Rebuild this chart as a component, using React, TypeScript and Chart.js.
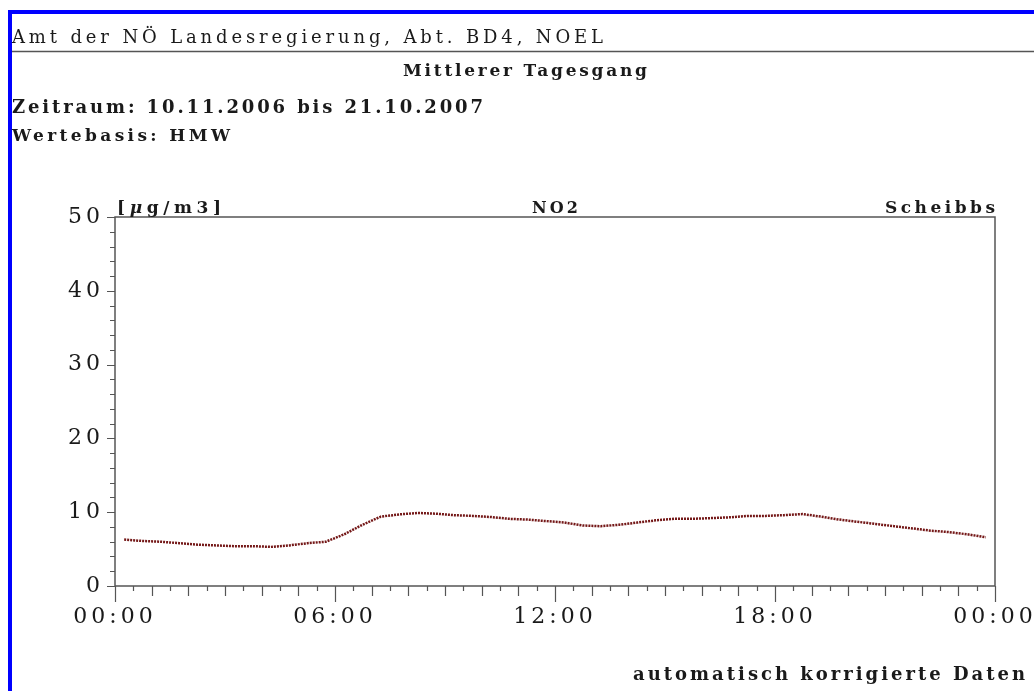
import React, { useEffect, useRef } from 'react';
import { Chart, registerables } from 'chart.js';

Chart.register(...registerables);

// Half-hour mean times (hours of day, midpoint of each half-hour interval)
const HOURS = [
  0.25, 0.75, 1.25, 1.75, 2.25, 2.75, 3.25, 3.75, 4.25, 4.75, 5.25, 5.75,
  6.25, 6.75, 7.25, 7.75, 8.25, 8.75, 9.25, 9.75, 10.25, 10.75, 11.25, 11.75,
  12.25, 12.75, 13.25, 13.75, 14.25, 14.75, 15.25, 15.75, 16.25, 16.75, 17.25, 17.75,
  18.25, 18.75, 19.25, 19.75, 20.25, 20.75, 21.25, 21.75, 22.25, 22.75, 23.25, 23.75,
];

// NO2 mean diurnal cycle [µg/m3]
const NO2 = [
  6.3, 6.1, 6.0, 5.8, 5.6, 5.5, 5.4, 5.4, 5.3, 5.5, 5.8, 6.0,
  7.0, 8.3, 9.4, 9.7, 9.9, 9.8, 9.6, 9.5, 9.35, 9.1, 9.0, 8.8,
  8.6, 8.2, 8.1, 8.3, 8.6, 8.9, 9.1, 9.1, 9.2, 9.3, 9.5, 9.5,
  9.6, 9.75, 9.4, 9.0, 8.7, 8.4, 8.1, 7.8, 7.5, 7.3, 7.0, 6.6,
];

const X_MAJOR_HOURS = [0, 6, 12, 18, 24];
const X_MAJOR_LABELS = ['00:00', '06:00', '12:00', '18:00', '00:00'];
const Y_LABELED = [0, 10, 20, 30, 40, 50];

const FONT = "'DejaVu Serif', serif";

const framePlugin = {
  id: 'frameTicks',
  beforeUpdate(chart: any) {
    chart.ctx.letterSpacing = '4px';
  },
  beforeDraw(chart: any) {
    chart.ctx.letterSpacing = '4px';
  },
  afterDraw(chart: any) {
    const { ctx, chartArea: a } = chart;
    const xs = chart.scales.x;
    const ys = chart.scales.y;
    ctx.save();
    ctx.strokeStyle = '#555555';
    ctx.lineWidth = 1.5;
    ctx.strokeRect(a.left, a.top, a.right - a.left, a.bottom - a.top);
    ctx.lineWidth = 1.2;
    ctx.beginPath();
    ys.ticks.forEach((t: any) => {
      const py = Math.round(ys.getPixelForValue(t.value)) + 0.5;
      const len = Y_LABELED.includes(t.value) ? 8 : 5;
      ctx.moveTo(a.left - len, py);
      ctx.lineTo(a.left, py);
    });
    xs.ticks.forEach((t: any) => {
      const px = Math.round(xs.getPixelForValue(t.value)) + 0.5;
      let len = 5;
      if (X_MAJOR_HOURS.includes(t.value)) len = 16;
      else if (Number.isInteger(t.value)) len = 10;
      ctx.moveTo(px, a.bottom);
      ctx.lineTo(px, a.bottom + len);
    });
    ctx.stroke();
    ctx.restore();
  },
};

export default function App() {
  const ref = useRef<HTMLCanvasElement | null>(null);

  useEffect(() => {
    document.body.style.margin = '0';
    const canvas = ref.current;
    if (!canvas) return;
    const chart = new Chart(canvas, {
      type: 'line',
      data: {
        datasets: [
          {
            label: 'NO2',
            data: HOURS.map((h, i) => ({ x: h, y: NO2[i] })),
            borderColor: '#741818',
            borderWidth: 2.5,
            borderDash: [2, 1],
            pointRadius: 0,
            tension: 0,
            fill: false,
          },
        ],
      },
      options: {
        animation: false,
        responsive: false,
        maintainAspectRatio: false,
        devicePixelRatio: 1,
        layout: { padding: { top: 217, right: 39, left: 0, bottom: 0 } },
        plugins: {
          legend: { display: false },
          title: { display: false },
          tooltip: { enabled: false },
        },
        scales: {
          x: {
            type: 'linear',
            min: 0,
            max: 24,
            grid: { display: false, drawTicks: false },
            border: { display: false },
            ticks: {
              stepSize: 0.5,
              autoSkip: false,
              maxRotation: 0,
              minRotation: 0,
              padding: 18,
              color: '#1a1a1a',
              font: { family: FONT, size: 22 },
              callback: (v: any) => {
                const i = X_MAJOR_HOURS.indexOf(Number(v));
                return i >= 0 ? X_MAJOR_LABELS[i] : '';
              },
            },
            afterFit: (s: any) => {
              s.height = 105;
              s.paddingLeft = 0;
              s.paddingRight = 0;
            },
          },
          y: {
            type: 'linear',
            min: 0,
            max: 50,
            grid: { display: false, drawTicks: false },
            border: { display: false },
            ticks: {
              stepSize: 2,
              autoSkip: false,
              padding: 11,
              color: '#1a1a1a',
              font: { family: FONT, size: 22 },
              callback: (v: any) => (Y_LABELED.includes(Number(v)) ? String(v) : ''),
            },
            afterFit: (s: any) => {
              s.width = 115;
              s.paddingTop = 0;
              s.paddingBottom = 0;
            },
          },
        },
      },
      plugins: [framePlugin],
    });
    return () => chart.destroy();
  }, []);

  const t = { fontFamily: FONT, fill: '#1a1a1a' } as React.CSSProperties;

  return (
    <div style={{ position: 'relative', width: 1034, height: 691, overflow: 'hidden', background: '#ffffff' }}>
      <canvas ref={ref} width={1034} height={691} style={{ position: 'absolute', left: 0, top: 0, width: 1034, height: 691, display: 'block' }} />
      <svg width={1034} height={691} style={{ position: 'absolute', left: 0, top: 0, pointerEvents: 'none' }}>
        <rect x={8} y={10} width={4} height={681} fill="#0000ff" />
        <rect x={8} y={10} width={1026} height={4} fill="#0000ff" />
        <line x1={12} y1={51.5} x2={1034} y2={51.5} stroke="#555555" strokeWidth={1.5} />
        <text x={12} y={43} fontSize={18} textLength={591} lengthAdjust="spacing" style={t}>
          Amt der NÖ Landesregierung, Abt. BD4, NOEL
        </text>
        <text x={403} y={76} fontSize={17} fontWeight="bold" textLength={244} lengthAdjust="spacing" style={t}>
          Mittlerer Tagesgang
        </text>
        <text x={12} y={113} fontSize={18} fontWeight="bold" textLength={471} lengthAdjust="spacing" style={t}>
          Zeitraum: 10.11.2006 bis 21.10.2007
        </text>
        <text x={12} y={141} fontSize={17} fontWeight="bold" textLength={218} lengthAdjust="spacing" style={t}>
          Wertebasis: HMW
        </text>
        <text x={117} y={213} fontSize={17} fontWeight="bold" textLength={104} lengthAdjust="spacing" style={t}>
          [<tspan fontStyle="italic">μ</tspan>g/m3]
        </text>
        <text x={532} y={213} fontSize={16} fontWeight="bold" textLength={46} lengthAdjust="spacing" style={t}>
          NO2
        </text>
        <text x={885} y={213} fontSize={17} fontWeight="bold" textLength={110} lengthAdjust="spacing" style={t}>
          Scheibbs
        </text>
        <text x={633} y={680} fontSize={18} fontWeight="bold" textLength={392} lengthAdjust="spacing" style={t}>
          automatisch korrigierte Daten
        </text>
      </svg>
    </div>
  );
}
